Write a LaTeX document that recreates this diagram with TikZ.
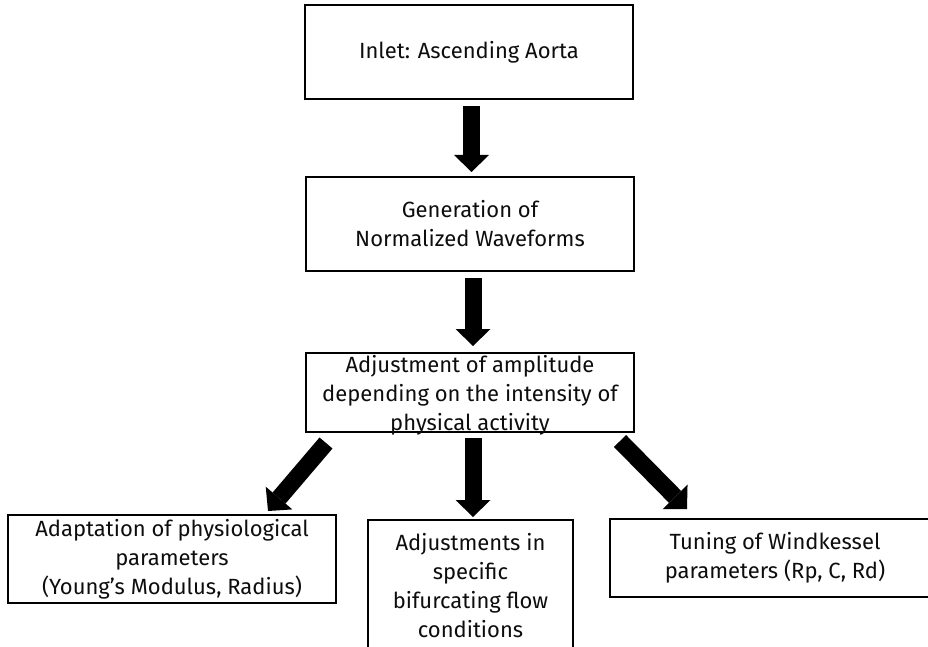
\documentclass[tikz,border=0pt]{standalone}
\usepackage{fontspec}
\setmainfont{Fira Sans}
\usetikzlibrary{arrows.meta,calc}
\begin{document}
\begin{tikzpicture}[x=1pt,y=-1pt,
  stage/.style={draw=black, line width=1.8pt, rectangle, inner sep=0pt, outer sep=0pt},
  label/.style={align=center, inner sep=0pt, text=black!95,
    font=\fontsize{22}{29}\selectfont},
  fat/.style={line width=17pt, draw=black,
    -{Triangle[width=35pt 0 0, length=17pt 0 0, line width=0pt]}}
]
\clip (0,0) rectangle (928,647);

% process boxes
\node[stage, label, minimum width=328pt, minimum height=94pt] (b1) at (469,52)
  {Inlet: Ascending Aorta};
\node[stage, label, minimum width=328pt, minimum height=94pt] (b2) at (470,224)
  {Generation of\\Normalized Waveforms};
\node[stage, minimum width=328pt, minimum height=79pt] (b3) at (470,392.5) {};
\node[label] (t3) at (470,395)
  {Adjustment of amplitude\\depending on the intensity of\\physical activity};
\node[stage, label, minimum width=328pt, minimum height=88pt] (b4) at (172,559)
  {Adaptation of physiological\\parameters\\(Young’s Modulus, Radius)};
\node[stage, minimum width=205pt, minimum height=160pt] (b5) at (470.5,600) {};
\node[label] (t5) at (470.5,585.5)
  {Adjustments in\\specific\\bifurcating flow\\conditions};
\node[stage, label, minimum width=330pt, minimum height=78pt] (b6) at (775,558)
  {Tuning of Windkessel\\parameters (Rp, C, Rd)};

% end points of the slanted arrows
\coordinate (l0) at ($(b3.south west)+(20,11)$);
\coordinate (l1) at ($(b4.north east)+(-68,-4)$);
\coordinate (r0) at ($(b3.south east)+(-14,9)$);
\coordinate (r1) at ($(b6.north west)+(77,-10)$);

% arrows
\draw[fat, shorten <=7pt, shorten >=5pt] ([xshift=2.5pt]b1.south) -- ([xshift=2.5pt]b1.south |- b2.north);
\draw[fat, shorten <=7pt, shorten >=7pt] ([xshift=3pt]b2.south) -- ([xshift=3pt]b2.south |- b3.north);
\draw[fat, shorten <=6pt, shorten >=3pt] ([xshift=3pt]b3.south) -- ([xshift=3pt]b3.south |- b5.north);
\draw[fat] (l0) -- (l1);
\draw[fat] (r0) -- (r1);
\end{tikzpicture}
\end{document}
